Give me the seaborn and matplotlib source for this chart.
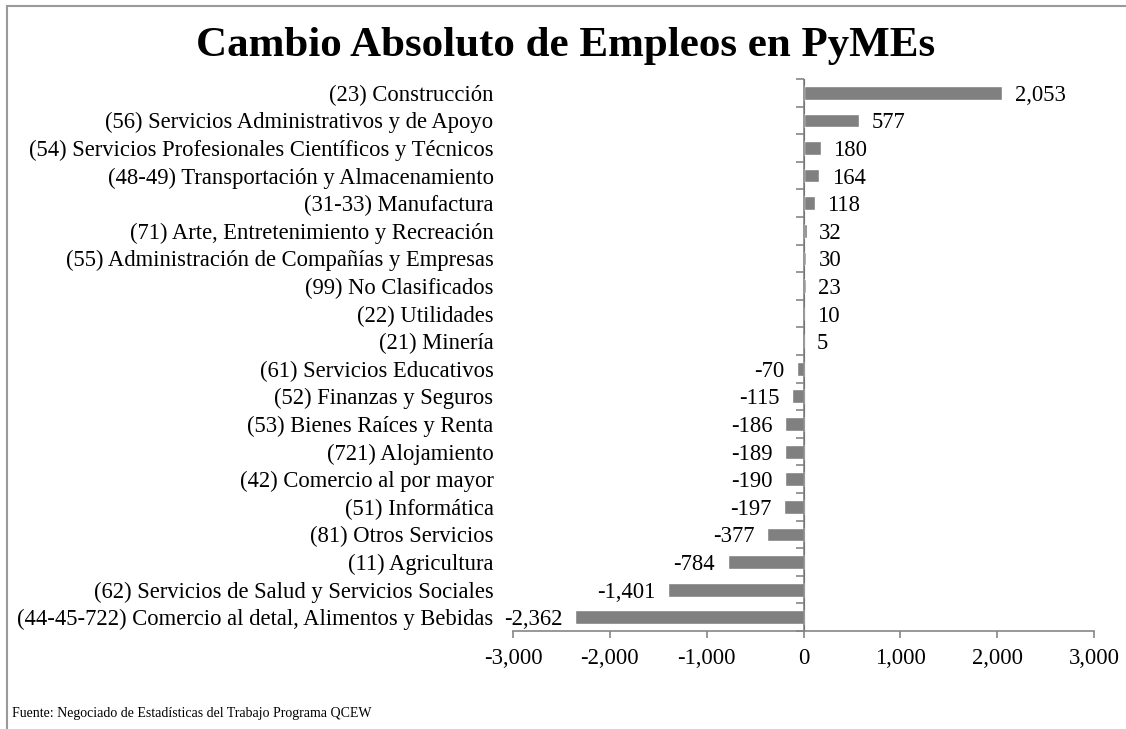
import matplotlib
matplotlib.use('Agg')
import matplotlib.pyplot as plt
import seaborn as sns
from matplotlib.patches import Rectangle

# Data (top to bottom as shown in the chart)
SECTORS = [
    "(23) Construcción",
    "(56) Servicios Administrativos y de Apoyo",
    "(54) Servicios Profesionales Científicos y Técnicos",
    "(48-49) Transportación y Almacenamiento",
    "(31-33) Manufactura",
    "(71) Arte, Entretenimiento y Recreación",
    "(55) Administración de Compañías y Empresas",
    "(99) No Clasificados",
    "(22) Utilidades",
    "(21) Minería",
    "(61) Servicios Educativos",
    "(52) Finanzas y Seguros",
    "(53) Bienes Raíces y Renta",
    "(721) Alojamiento",
    "(42) Comercio al por mayor",
    "(51) Informática",
    "(81) Otros Servicios",
    "(11) Agricultura",
    "(62) Servicios de Salud y Servicios Sociales",
    "(44-45-722) Comercio al detal, Alimentos y Bebidas",
]
CHANGE = [2053, 577, 180, 164, 118, 32, 30, 23, 10, 5,
          -70, -115, -186, -189, -190, -197, -377, -784, -1401, -2362]
X_TICKS = [-3000, -2000, -1000, 0, 1000, 2000, 3000]

TITLE = "Cambio Absoluto de Empleos en PyMEs"
SOURCE = "Fuente: Negociado de Estadísticas del Trabajo Programa QCEW"

BAR_COLOR = '#808080'
AXIS_COLOR = '#868686'
FS = 16.3

sns.set_style("white")
plt.rcParams['font.family'] = ['Liberation Serif', 'DejaVu Serif']
plt.rcParams.update({'text.color': 'black', 'xtick.color': 'black',
                     'ytick.color': 'black', 'axes.labelcolor': 'black'})

fig = plt.figure(figsize=(11.26, 7.29), dpi=100)
ax = fig.add_axes([513 / 1126, 1 - 631 / 729, 581 / 1126, 552 / 729])

sns.barplot(x=CHANGE, y=SECTORS, orient='h', color=BAR_COLOR,
            saturation=1, width=0.5, ax=ax)

labels = ax.bar_label(ax.containers[0], labels=[f"{v:,}" for v in CHANGE],
                      padding=9, fontsize=FS)
for t in labels:
    t.set_va('center_baseline')

ax.set_xlim(-3000, 3000)
ax.set_xticks(X_TICKS, labels=[f"{t:,}" for t in X_TICKS])
ax.set_xlabel("")
ax.set_ylabel("")

for side in ['top', 'right', 'left']:
    ax.spines[side].set_visible(False)
ax.spines['bottom'].set_color(AXIS_COLOR)
ax.spines['bottom'].set_linewidth(1.2)
ax.tick_params(axis='x', direction='out', length=5, width=1.2,
               color=AXIS_COLOR, labelsize=FS, labelcolor='black', pad=7,
               bottom=True)
ax.tick_params(axis='y', length=0, labelsize=FS, labelcolor='black', pad=14)

# Vertical axis line at zero with ticks between categories
ax.axvline(0, color=AXIS_COLOR, linewidth=1.2, zorder=3)
zero_axis = ax.secondary_yaxis(0.5)
zero_axis.set_yticks([i - 0.5 for i in range(len(SECTORS) + 1)], labels=[])
zero_axis.tick_params(direction='in', length=6, width=1.2, color=AXIS_COLOR)
zero_axis.spines['left'].set_visible(False)

fig.text(0.502, 1 - 46 / 729, TITLE, ha='center', va='center',
         fontsize=31, fontweight='bold', color='black')
fig.text(12 / 1126, 1 - 714 / 729, SOURCE, ha='left', va='center',
         fontsize=10)

# Chart frame
fig.patches.append(Rectangle((7 / 1126, -0.1), 1.2, 1.1 - 6 / 729,
                             transform=fig.transFigure, fill=False,
                             edgecolor='#9a9a9a', linewidth=1.5))

fig.savefig('out.png', dpi=100)
